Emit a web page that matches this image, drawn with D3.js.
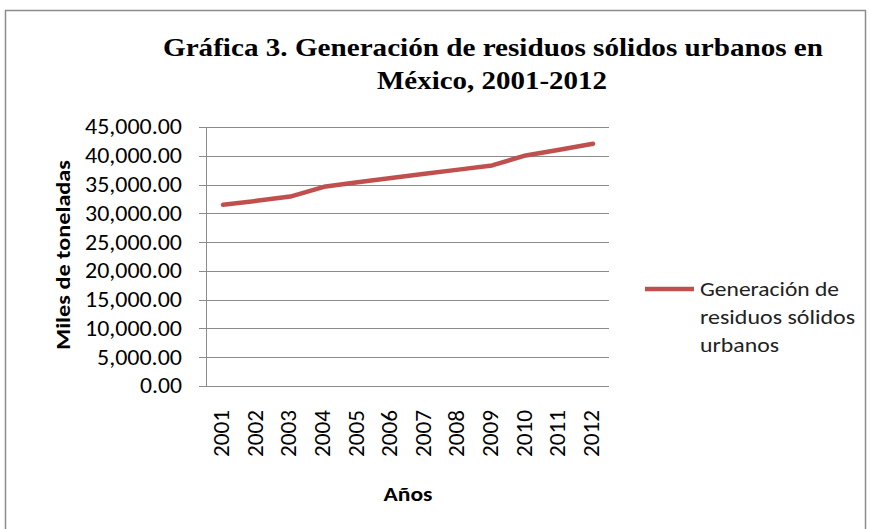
<!DOCTYPE html>
<html><head><meta charset="utf-8">
<script src="https://cdn.jsdelivr.net/npm/d3@7"></script>
<style>body{margin:0;background:#fff}svg{display:block}</style>
</head><body>
<script>
const years = ["2001","2002","2003","2004","2005","2006","2007","2008","2009","2010","2011","2012"];
const values = [31488,32174,32916,34604,35405,36135,36865,37595,38325,40059,41063,42103];
const yTicks = [0,5000,10000,15000,20000,25000,30000,35000,40000,45000];
const seriesName = ["Generación de","residuos sólidos","urbanos"];

const W=870,H=529;
const svg=d3.select("body").append("svg").attr("width",W).attr("height",H);
svg.append("rect").attr("x",5.5).attr("y",10.5).attr("width",860).attr("height",530)
  .attr("fill","#fff").attr("stroke","#8c8c8c").attr("stroke-width",1.5);

const x=d3.scalePoint().domain(years).range([223,593]).padding(0);
const y=d3.scaleLinear().domain([0,45000]).range([386,127]);
const fmt=d3.format(",.2f");
const sans="Calibri, Carlito, 'Open Sans', 'Liberation Sans', sans-serif";

// gridlines
svg.append("g").selectAll("line").data(yTicks).join("line")
  .attr("x1",199).attr("x2",609).attr("y1",d=>Math.round(y(d))+0.5).attr("y2",d=>Math.round(y(d))+0.5)
  .attr("stroke","#8c8c8c").attr("stroke-width",1);
// y axis line
svg.append("line").attr("x1",206.5).attr("x2",206.5).attr("y1",127).attr("y2",386.5)
  .attr("stroke","#8c8c8c");
// y labels
svg.append("g").selectAll("text").data(yTicks).join("text")
  .attr("x",182).attr("y",d=>y(d)).attr("dy","0.34em").attr("text-anchor","end")
  .attr("textLength",d=>d>=10000?97:d>=1000?85:42).attr("lengthAdjust","spacingAndGlyphs")
  .attr("font-family",sans).attr("font-size",22).attr("fill","#000").text(d=>fmt(d));
// x labels
svg.append("g").selectAll("text").data(years).join("text")
  .attr("transform",d=>`translate(${x(d)+6},410) rotate(-90)`).attr("text-anchor","end")
  .attr("textLength",47).attr("lengthAdjust","spacingAndGlyphs")
  .attr("font-family",sans).attr("font-size",22).attr("fill","#000").text(d=>d);

// line
svg.append("path").datum(values)
  .attr("d",d3.line().x((d,i)=>x(years[i])).y(d=>y(d)))
  .attr("fill","none").attr("stroke","#C0504D").attr("stroke-width",4.5).attr("stroke-linecap","round").attr("stroke-linejoin","round");

// title
const title=svg.append("text").attr("text-anchor","middle").attr("font-family","'Liberation Serif','Times New Roman',serif")
  .attr("font-weight","bold").attr("font-size",26).attr("fill","#000");
title.append("tspan").attr("x",493).attr("y",56).attr("textLength",660).attr("lengthAdjust","spacingAndGlyphs").text("Gráfica 3. Generación de residuos sólidos urbanos en");
title.append("tspan").attr("x",492).attr("y",89).attr("textLength",230).attr("lengthAdjust","spacingAndGlyphs").text("México, 2001-2012");

// axis titles
svg.append("text").attr("x",408).attr("y",501).attr("text-anchor","middle").attr("font-family",sans)
  .attr("font-weight","bold").attr("font-size",20).attr("textLength",49).attr("lengthAdjust","spacingAndGlyphs").text("Años");
svg.append("text").attr("transform","translate(70,255) rotate(-90)").attr("text-anchor","middle").attr("font-family",sans)
  .attr("font-weight","bold").attr("font-size",20).attr("textLength",190).attr("lengthAdjust","spacingAndGlyphs").text("Miles de toneladas");

// legend
svg.append("line").attr("x1",645).attr("x2",694).attr("y1",289).attr("y2",289)
  .attr("stroke","#C0504D").attr("stroke-width",4.5);
const legLen=[139,155,79];
svg.append("g").selectAll("text").data(seriesName).join("text")
  .attr("x",700).attr("y",(d,i)=>296+i*28).attr("textLength",(d,i)=>legLen[i]).attr("lengthAdjust","spacingAndGlyphs")
  .attr("font-family",sans).attr("font-size",21).attr("fill","#222").text(d=>d);
</script>
</body></html>
